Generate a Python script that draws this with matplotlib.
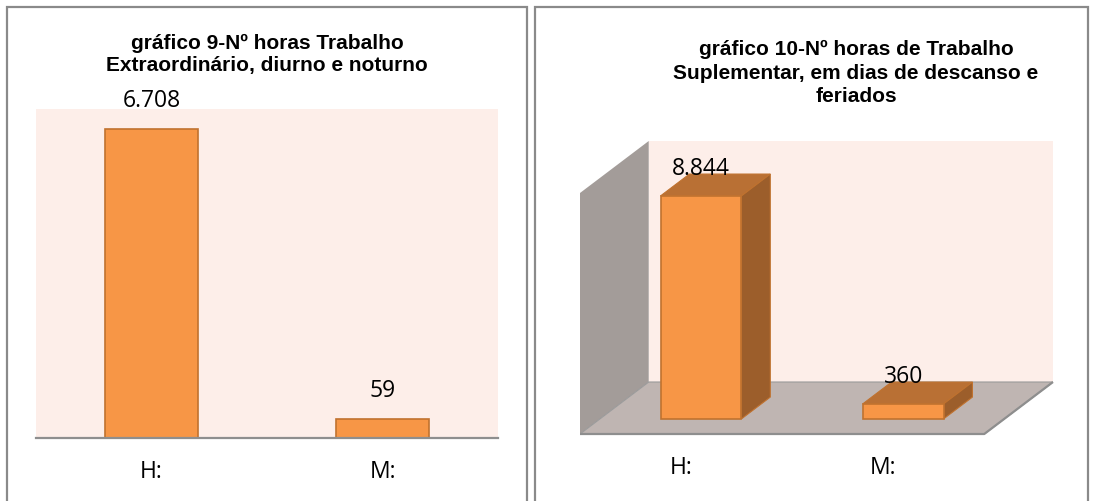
import matplotlib
matplotlib.use('Agg')
import matplotlib.pyplot as plt
from matplotlib.patches import Rectangle, Polygon

# data
categories = ['H:', 'M:']
horas_extra = [6708, 59]      # gráfico 9
horas_suplem = [8844, 360]    # gráfico 10

title1 = 'gráfico 9-Nº horas Trabalho\nExtraordinário, diurno e noturno'
title2 = 'gráfico 10-Nº horas de Trabalho\nSuplementar, em dias de descanso e\nferiados'

W, H = 1093, 501
fig = plt.figure(figsize=(W / 100, H / 100), dpi=100)

ORANGE = '#F79646'
ORANGE_EDGE = '#C0722F'
TOP_FACE = '#B97034'
SIDE_FACE = '#9C5E2B'
PINK = '#FDEEE9'
label_font = 'Open Sans'
title_font = 'Liberation Sans'
LBL_SIZE = 16.5
TTL_SIZE = 15


def px_axes(x0, y0, x1, y1):
    return fig.add_axes([x0 / W, 1 - y1 / H, (x1 - x0) / W, (y1 - y0) / H])


def fmt(v):
    return f'{v:,}'.replace(',', '.')


# panel borders
for x0, x1 in [(7, 527), (535, 1088)]:
    fig.add_artist(Rectangle((x0 / W, -0.1), (x1 - x0) / W, 1.1 - 7 / H,
                             transform=fig.transFigure, fill=False,
                             edgecolor='#8A8A8A', lw=1.6))

# ---- left chart (2D) ----
ax1 = px_axes(36, 109, 498, 438)
ymin1 = -377
ax1.set_xlim(-0.5, 1.5)
ax1.set_ylim(ymin1, 7166)
ax1.set_facecolor(PINK)
xs = range(len(categories))
ax1.bar(xs, [v - ymin1 for v in horas_extra], bottom=ymin1, width=0.4,
        color=ORANGE, edgecolor=ORANGE_EDGE, lw=1.2)
for i, v in zip(xs, horas_extra):
    ax1.annotate(fmt(v), (i, v), xytext=(0, 20), textcoords='offset points',
                 ha='center', va='center', fontsize=LBL_SIZE, family=label_font)
for s in ['top', 'left', 'right']:
    ax1.spines[s].set_visible(False)
ax1.spines['bottom'].set_color('#8E8E8E')
ax1.spines['bottom'].set_linewidth(1.6)
ax1.set_yticks([])
ax1.set_xticks(list(xs))
ax1.set_xticklabels(categories, fontsize=LBL_SIZE, family=label_font)
ax1.tick_params(axis='x', length=0, pad=16)
fig.text(267 / W, 1 - 54 / H, title1, ha='center', va='center',
         fontsize=TTL_SIZE, fontweight='bold', family=title_font, linespacing=1.2)

# ---- right chart (3D look) ----
ax2 = px_axes(580, 141, 1053, 434)
floor = -252
wall_top = 9577
dxd, dyd = 0.34, 2121       # full depth offset in data units
z0, z1 = 0.29, 0.71         # bar depth range
ax2.set_xlim(-0.5, 1.5 + dxd)
ax2.set_ylim(floor, wall_top + dyd)
ax2.axis('off')

# walls and floor
ax2.add_patch(Polygon([(-0.5 + dxd, floor + dyd), (1.5 + dxd, floor + dyd),
                       (1.5 + dxd, wall_top + dyd), (-0.5 + dxd, wall_top + dyd)],
                      closed=True, color=PINK, lw=0))
ax2.add_patch(Polygon([(-0.5, floor), (-0.5 + dxd, floor + dyd),
                       (-0.5 + dxd, wall_top + dyd), (-0.5, wall_top)],
                      closed=True, color='#A39C99', lw=0))
ax2.add_patch(Polygon([(-0.5, floor), (1.5, floor), (1.5 + dxd, floor + dyd),
                       (-0.5 + dxd, floor + dyd)],
                      closed=True, facecolor='#BFB5B2', edgecolor='#9A9A9A', lw=0.8))
ax2.plot([-0.5, 1.5, 1.5 + dxd], [floor, floor, floor + dyd],
         color='#8E8E8E', lw=1.6, clip_on=False, solid_capstyle='butt')

for i, v in zip(xs, horas_suplem):
    xl, xr = i - 0.2, i + 0.2
    ax2.add_patch(Polygon([(xl + z0 * dxd, v + z0 * dyd), (xr + z0 * dxd, v + z0 * dyd),
                           (xr + z1 * dxd, v + z1 * dyd), (xl + z1 * dxd, v + z1 * dyd)],
                          closed=True, facecolor=TOP_FACE, edgecolor=ORANGE_EDGE, lw=0.8))
    ax2.add_patch(Polygon([(xr + z0 * dxd, floor + z0 * dyd), (xr + z1 * dxd, floor + z1 * dyd),
                           (xr + z1 * dxd, v + z1 * dyd), (xr + z0 * dxd, v + z0 * dyd)],
                          closed=True, facecolor=SIDE_FACE, edgecolor=ORANGE_EDGE, lw=0.8))
    ax2.add_patch(Rectangle((xl + z0 * dxd, floor + z0 * dyd), 0.4, v - floor,
                            facecolor=ORANGE, edgecolor=ORANGE_EDGE, lw=1.2))
    ax2.annotate(fmt(v), (i + z0 * dxd, v + z0 * dyd), xytext=(0, 19.5),
                 textcoords='offset points', ha='center', va='center',
                 fontsize=LBL_SIZE, family=label_font)
    ax2.annotate(categories[i], (i, floor), xytext=(0, -24.5),
                 textcoords='offset points', ha='center', va='center',
                 fontsize=LBL_SIZE, family=label_font, annotation_clip=False)

fig.text(856 / W, 1 - 73 / H, title2, ha='center', va='center',
         fontsize=TTL_SIZE, fontweight='bold', family=title_font, linespacing=1.3)

fig.savefig('out.png', dpi=100)
